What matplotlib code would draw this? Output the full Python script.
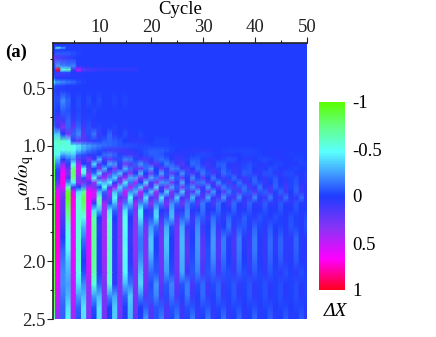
import numpy as np
import matplotlib
matplotlib.use('Agg')
import matplotlib.pyplot as plt
from matplotlib.colors import LinearSegmentedColormap

plt.rcParams['font.family'] = ['Liberation Serif', 'DejaVu Serif']
plt.rcParams['mathtext.fontset'] = 'stix'

# values, in percent of full scale, one list per omega row
# cycles run 1..50, short rows just stay at 0 after their last entry
cycles = np.arange(1, 51)
omega = [0.11, 0.14, 0.155, 0.17, 0.20, 0.24, 0.31, 0.345, 0.365, 0.39, 0.42, 0.45, 0.48, 0.52, 0.61, 0.70, 0.78, 0.84, 0.90, 0.96,
         1.00, 1.04, 1.08, 1.12, 1.16, 1.20, 1.24, 1.28, 1.32, 1.36, 1.40, 1.45, 1.50, 1.56,
         1.62, 1.70, 1.80, 1.90, 2.00, 2.10, 2.20, 2.30, 2.40, 2.50]

w011 = [0]
w014 = [0]
w015 = [0, -55, -25]
w017 = [0]
w020 = [-2, -8, -8, -8, -6, -2]
w024 = [30, 15, 12, 8, 3]
w031 = [-5, -25, -18, -15, -18, 3, 2]
w035 = [0, 100, -50, -60, 10, 50, 20, 15, 12, 10, 8, 8, 8, 8, 8, 8, 8]
w036 = [0, 10, -5, -5, 2, 5, 3, 2, 2, 1]
w039 = [-3, 12, 10, 6, 3, 3, 2, 2]
w042 = [-10]
w045 = [-45, -25, -20, -15, -12, -5, -3]
w048 = [-12, -3, -3]
w052 = [-3, 3, 2, 0, 2]
w061 = [-8, -5, -20, -10, 0, -4, 0, -4, 0, -4, 0, 0, -3, 0, -3]
w070 = [-5, 0, -8, -5, 3, -3, 3, 0, -3]
w078 = [-5, 15, 10, -10, 8, -5, 5, -3, 3]
w084 = [-15, 10, 30, -10, 20, -10, 12, -5, 5, -3, 3, 0, -3, 0, 3]
w090 = [-35, -35, 0, 30, -10, -20, 20, -5, -15, 10, 0, -10, 5, 0, -5, 3, 0, -3]
w096 = [-55, -60, -60, -45, 10, 20, 15, 10, 5, -3, -8, -10, -8, -5, 0, 3, 5, 5, 3, 0, -3, -3, -3]
w100 = [-50, -55, -55, -55, -50, -40, -30, -25, -20, -15, -12, -10, -8, -6, -5, -5, -4, -3, -3, -2,
        -2, -2, -2, -1, -1]
w104 = [-50, -55, -50, -55, -50, -35, -25, -15, -10, -5, 5, 10, 12, 12, 10, 7, 3, -2, -5, -8,
        -8, -8, -6, -3, 0, 2, 4, 5, 5, 5, 4, 2, 0, -2, -3, -3, -3, -3, -3, -2,
        -1, 0, 1, 2, 2, 2, 2, 1, 0, 0]
w108 = [-55, -45, -25, -30, -35, -10, -5, 5, 5, 0, -12, -15, -10, -2, 8, 12, 10, 3, -4, -8,
        -8, -6, -1, 3, 6, 5, 3, -1, -3, -4, -3, -1, 1, 3, 3, 2, 0, -2, -2, -2,
        -1, 0, 1, 2, 1, 0, -1, -1, -1, 0]
w112 = [-65, -30, 0, -10, -20, 20, 10, 30, 10, -30, 12, 20, 12, -5, -18, -15, -2, 12, 15, 6,
        -8, -13, -8, 3, 10, 8, -2, -7, -7, -1, 5, 7, 3, -3, -5, -4, 1, 4, 4, 1,
        -3, -4, -2, 1, 3, 2, 0, -2, -2, 0]
w116 = [-80, -15, 35, 5, -50, 40, 0, 10, -40, 15, 0, -28, -22, 5, 28, 18, -10, -22, -10, 15,
        20, -2, -17, -10, 10, 15, 0, -12, -8, 6, 10, 3, -8, -8, 3, 6, 5, -3, -5, -2,
        3, 4, 0, -3, -3, 1, 3, 2, -2, -3]
w120 = [-85, -5, 55, 20, -75, 50, -45, 20, 0, 30, -30, 0, 30, 8, -30, -12, 20, 20, -12, -25,
        0, 22, 8, -17, -15, 8, 17, 2, -13, -8, 7, 10, -3, -9, -2, 7, 5, -4, -6, 1,
        5, 2, -4, -3, 2, 3, -1, -3, 0, 3]
w124 = [-85, 5, 65, 30, -80, 45, -55, 35, -10, -40, 18, 33, -15, -34, 10, 33, 0, -30, 0, 28,
        0, -26, -5, 22, 7, -22, -5, 17, 7, -16, -6, 12, 7, -12, -7, 8, 5, -8, -6, 6,
        5, -6, -5, 4, 4, -4, -4, 3, 3, -3]
w128 = [-85, 10, 70, 15, -75, 30, -5, 50, -50, 20, 40, -18, -38, 22, 38, -28, -26, 28, 20, -28,
        -16, 27, 12, -25, -8, 22, 3, -20, -3, 19, 0, -16, 2, 13, -3, -12, 5, 10, -3, -9,
        3, 7, -3, -7, 3, 5, -2, -5, 3, 4]
w132 = [-85, 20, 70, -20, -45, 35, 30, 10, 35, -40, -30, -45, 5, 30, -42, -13, 42, 0, -38, 12,
        30, -24, -20, 27, 8, -28, 3, 22, -13, -16, 16, 10, -18, -3, 15, -2, -13, 8, 8, -10,
        -4, 8, 0, -8, 2, 7, -2, -6, 3, 5]
w136 = [-85, 40, 60, -60, 10, 0, -20, 40, 30, 0, -50, 15, 42, -38, -15, 45, -14, -35, 33, 12,
        -38, 11, 29, -26, -9, 29, -9, -22, 21, 8, -24, 7, 18, -17, -6, 19, -6, -14, 13, 5,
        -14, 4, 10, -10, -3, 11, -3, -8, 8, 3]
w140 = [-85, 60, 35, -90, 55, -40, -70, 65, 55, -30, -10, 48, -32, -20, 50, -20, -30, 42, -5, -33,
        35, 4, -36, 27, 10, -33, 17, 16, -27, 8, 20, -23, 1, 18, -15, -4, 17, -10, -7, 16,
        -6, -9, 13, -2, -10, 10, 0, -9, 7, 3]
w145 = [-85, 70, 25, -95, 70, -55, -85, 65, 50, -60, 12, 28, -50, 15, 30, -48, 14, 27, -42, 13,
        25, -40, 12, 22, -35, 10, 20, -30, 9, 17, -27, 8, 15, -23, 7, 13, -20, 6, 11, -18,
        5, 10, -15, 5, 9, -13, 4, 7, -11, 3]
w150 = [-85, 72, 20, -85, 70, -55, -80, 65, 10, -60, 40, -5, -30, 45, -15, -30, 40, -18, -20, 35,
        -17, -17, 30, -20, -10, 25, -15, -7, 20, -15, -1, 15, -13, 2, 11, -12, 3, 8, -10, 3,
        7, -8, 4, 5, -7, 3, 4, -6, 3, 3]
w156 = [-85, 72, 18, -78, 68, -55, -68, 62, -40, -30, 40, -40, -10, 30, -40, -10, 30, -45, 0, 10,
        -35, 0, 8, -28, 5, 5, -18, 2, 3, -13, 2, 2, -10, 2, 2, -8, 2, 2, -6, 2,
        2, -5, 1, 2, -5, 1, 1, -4, 1, 1]
w162 = [-85, 72, 15, -68, 65, -55, -52, 60, -65, 0, 40, -55, 0, 35, -50, 0, 35, -42, 12, -5,
        -38, 12, -8, -30, 18, -10, -20, 10, -12, -8, 8, -12, -4, 7, -10, -2, 5, -8, -2, 4,
        -6, -2, 3, -5, -1, 3, -5, -1, 3, -4]
w170 = [-85, 72, 10, -55, 62, -55, -30, 55, -70, 10, 40, -60, 5, 35, -50, 5, 35, -25, 25, -22,
        -12, 22, -26, -5, 25, -26, 8, 5, -20, 8, 0, -18, 8, 0, -14, 7, -6, -7, 4, -9,
        -2, 4, -7, 0, -2, 3, -6, -2, 3, -5]
w180 = [-85, 72, 0, -50, 60, -55, -15, 55, -70, 5, 40, -60, 5, 35, -45, 10, 35, -15, 30, -33,
        0, 25, -33, 0, 25, -30, 17, 0, -22, 17, -2, -22, 13, -15, 4, 13, -16, 4, 8, -15,
        3, 7, -11, 4, -9, 4, 4, -10, 3, 3]
w190 = [-85, 72, -10, -45, 60, -55, -5, 55, -70, 5, 40, -60, 5, 35, -50, 5, 35, -15, 30, -33,
        0, 25, -32, 0, 25, -30, 20, -2, -22, 20, -4, -22, 17, -15, 3, 13, -15, 3, 10, -15,
        3, 7, -11, 4, -9, 4, 4, -9, 3, 3]
w200 = [-85, 70, -15, -35, 58, -55, 0, 52, -70, 5, 38, -60, 5, 33, -45, 5, 33, -22, 30, -22,
        -4, 25, -26, -2, 25, -28, 17, -4, -20, 17, -4, -18, 13, -11, 0, 10, -13, 0, 8, -11,
        2, 7, -9, 2, -7, 4, 3, -7, 2, 3]
w210 = [-85, 65, -20, -30, 55, -50, -5, 50, -65, 5, 35, -60, 5, 30, -45, -5, 30, -33, 28, -11,
        -7, 24, -22, -4, 24, -26, 10, -7, -16, 13, -6, -11, 11, -7, -4, 8, -9, -4, 7, -7,
        -2, 5, -6, -2, 4, -5, -1, 4, -4, -1]
w220 = [-85, 60, -20, -25, 50, -40, -20, 40, -55, -10, 30, -55, 5, 30, -30, -15, 30, -38, 25, -4,
        -22, 21, -7, -18, 19, -6, -16, 13, -4, -11, 10, -4, -9, 8, -3, -7, 7, -2, -6, 5,
        -2, -5, 4, -1, -4, 3, -1, -4, 3, -1]
w230 = [-85, 50, -15, -30, 50, -25, -30, 35, -25, -30, 30, -20, -25, 30, -10, -35, 28, -18, 17, -7,
        -18, 13, -4, -15, 13, -2, -15, 8, -1, -11, 8, -1, -9, 7, -1, -7, 5, -1, -6, 4,
        -1, -5, 3, -1, -4, 3, -1, -4, 3, -1]
w240 = [-80, 45, -10, -40, 45, -10, -40, 35, -5, -40, 28, 0, -35, 28, 0, -32, 25, 0, -8, 15,
        -6, -8, 13, -6, -8, 10, -5, -6, 7, -4, -6, 5, -3, -5, 4, -3, -4, 3, -2, -4,
        3, -2, -4, 2, -2, -3, 2, -2, -3, 2]
w250 = [-60, 35, -10, -45, 40, -5, -40, 30, 0, -40, 28, 2, -35, 25, 2, -30, 22, 0, -24, 17,
        -6, -17, 13, -2, -17, 10, -2, -16, 8, 0, -15, 8, 0, -14, 7, 0, -11, 6, 0, -11,
        4, 0, -9, 4, 0, -8, 3, 0, -7, 3]

rows = [w011, w014, w015, w017, w020, w024, w031, w035, w036, w039, w042, w045, w048, w052, w061, w070, w078, w084, w090, w096,
        w100, w104, w108, w112, w116, w120, w124, w128, w132, w136, w140, w145, w150, w156,
        w162, w170, w180, w190, w200, w210, w220, w230, w240, w250]

bar_ticks = [-1, -0.5, 0, 0.5, 1]
bar_labels = ['-1', '-0.5', '0', '0.5', '1']

Z = np.zeros((len(rows), len(cycles)))
for i, r in enumerate(rows):
    Z[i, :len(r)] = r
Z = Z / 100.0

cmap = LinearSegmentedColormap.from_list('dx', [
    (0.0, (90/255, 1, 0)),
    (0.125, (100/255, 1, 130/255)),
    (0.265, (90/255, 1, 1)),
    (0.40, (60/255, 140/255, 1)),
    (0.5, (30/255, 60/255, 1)),
    (0.675, (140/255, 50/255, 245/255)),
    (0.835, (1, 0, 1)),
    (1.0, (1, 0, 30/255)),
])

W, H = 436, 337
fig = plt.figure(figsize=(W/100, H/100), dpi=100)
ax = fig.add_axes([53/W, 1-319/H, 254/W, 276/H])

# steps along the cycle axis, smooth along omega: every cell gets two corners
xs = np.repeat(cycles, 2) + np.tile([-0.5, 0.5], len(cycles))
mesh = ax.pcolormesh(xs, omega, np.repeat(Z, 2, axis=1), cmap=cmap, vmin=-1, vmax=1, shading='gouraud')
ax.set_xlim(1, 50)
ax.set_ylim(2.5, 0.11)

ax.xaxis.tick_top()
ax.set_xticks([10, 20, 30, 40, 50])
ax.set_xticks([5, 15, 25, 35, 45], minor=True)
ax.set_yticks([0.5, 1.0, 1.5, 2.0, 2.5])
ax.set_yticks([0.25, 0.75, 1.25, 1.75, 2.25], minor=True)
ax.tick_params(which='major', length=4, width=0.8, labelsize=13.5, pad=1, colors='#222222')
ax.tick_params(which='minor', length=2.5, width=0.8, colors='#222222')
ax.spines['right'].set_visible(False)
ax.spines['bottom'].set_visible(False)
ax.spines['top'].set_color('#222222')
ax.spines['left'].set_color('#222222')
ax.spines['left'].set_linewidth(1.2)
ax.spines['top'].set_linewidth(1.2)

fig.text(180/W, 1-10/H, 'Cycle', fontsize=13.5, ha='center', va='center')
fig.text(5/W, 1-52/H, '(a)', fontsize=13.5, fontweight='bold', ha='left', va='center')
fig.text(25/W, 1-176/H, r'$\omega/\omega_{\mathrm{q}}$', fontsize=14, rotation=90, ha='center', va='center')

cax = fig.add_axes([319/W, 1-290/H, 26/W, 188/H])
cb = fig.colorbar(mesh, cax=cax)
cax.set_ylim(1, -1)
cb.set_ticks(bar_ticks)
cb.set_ticklabels(bar_labels)
cb.outline.set_visible(False)
cax.tick_params(length=0, labelsize=13.5, pad=5)
fig.text(335/W, 1-311/H, 'ΔX', fontsize=14, style='italic', ha='center', va='center')

fig.savefig('out.png', dpi=100)
